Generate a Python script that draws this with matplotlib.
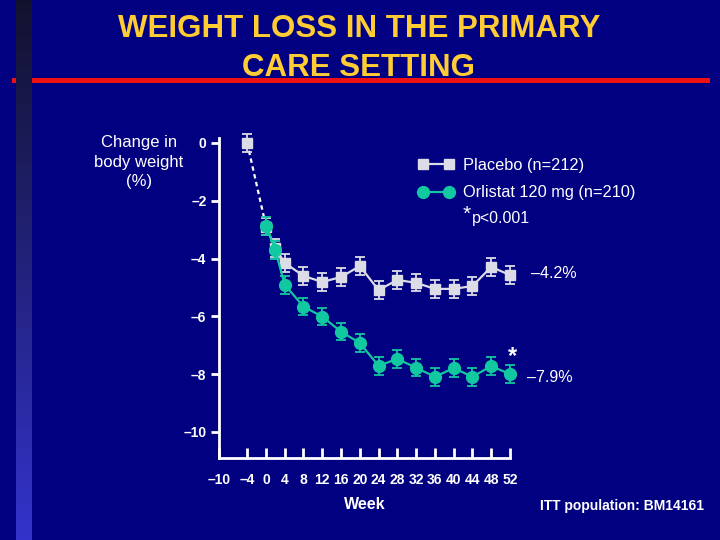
import matplotlib.pyplot as plt
import numpy as np

# data
weeks = [0, 2, 4, 8, 12, 16, 20, 24, 28, 32, 36, 40, 44, 48, 52]
placebo = [-2.90, -3.63, -4.15, -4.60, -4.81, -4.64, -4.26, -5.09, -4.74, -4.84, -5.05, -5.05, -4.95, -4.29, -4.57]
placebo_err = [0.30, 0.30, 0.30, 0.30, 0.30, 0.30, 0.30, 0.32, 0.30, 0.30, 0.30, 0.30, 0.30, 0.30, 0.30]
orlistat = [-2.87, -3.70, -4.91, -5.66, -6.01, -6.53, -6.92, -7.71, -7.47, -7.78, -8.09, -7.79, -8.09, -7.72, -8.00]
orlistat_err = [0.30, 0.30, 0.30, 0.30, 0.30, 0.30, 0.30, 0.32, 0.30, 0.30, 0.32, 0.30, 0.32, 0.30, 0.30]
runin_weeks = [-4, 0]
runin = [0.0, -2.87]
baseline_err = 0.30

xticks = [-10, -4, 0, 4, 8, 12, 16, 20, 24, 28, 32, 36, 40, 44, 48, 52]
yticks = [0, -2, -4, -6, -8, -10]

navy = '#000080'
gold = '#FFCC33'
teal = '#12C8A0'
grey = '#DCDCE6'

fig = plt.figure(figsize=(7.2, 5.4), dpi=100, facecolor=navy)

# left gradient strip
strip = fig.add_axes([16 / 720, 0, 16 / 720, 1])
grad = np.linspace(0, 1, 256).reshape(-1, 1)
cols = np.array([[0.07, 0.07, 0.18], [0.20, 0.20, 0.80]])
img = cols[0] + (cols[1] - cols[0]) * grad[:, :, None]
strip.imshow(img, aspect='auto', extent=[0, 1, 0, 1], origin='upper')
strip.axis('off')

# red rule under the title
fig.add_artist(plt.Line2D([14 / 720, 707 / 720], [1 - 80 / 540] * 2, color='#EE1111', lw=3.6, zorder=0))
strip.set_zorder(2)

fig.text(359 / 720, 1 - 48.5 / 540, 'WEIGHT LOSS IN THE PRIMARY\nCARE SETTING', color=gold,
         fontsize=22.5, fontweight='bold', family='Liberation Sans', ha='center', va='center',
         linespacing=1.36)

ax = fig.add_axes([219 / 720, 1 - 458 / 540, 291 / 720, 320 / 540])
ax.set_facecolor(navy)
ax.set_xlim(-10, 52)
ax.set_ylim(-10.9, 0.17)

# run-in (dashed)
ax.plot(runin_weeks, runin, color='white', lw=1.6, ls=(0, (2, 1.6)), zorder=2)
ax.errorbar([runin_weeks[0]], [runin[0]], yerr=[baseline_err], fmt='s', color=grey, ms=7,
            capsize=3.5, elinewidth=1.3, capthick=1.3, zorder=3)

ax.errorbar(weeks, placebo, yerr=placebo_err, fmt='-s', color=grey, ms=7, lw=1.6,
            capsize=3.5, elinewidth=1.3, capthick=1.3, zorder=3)
ax.errorbar(weeks, orlistat, yerr=orlistat_err, fmt='-o', color=teal, ms=8.5, lw=1.6,
            capsize=3.5, elinewidth=1.3, capthick=1.3, zorder=4)
for art in ax.get_children():
    try:
        art.set_clip_on(False)
    except Exception:
        pass

for s in ['top', 'right']:
    ax.spines[s].set_visible(False)
for s in ['left', 'bottom']:
    ax.spines[s].set_color('white')
    ax.spines[s].set_linewidth(2)

ax.set_xticks(xticks)
ax.set_xticklabels([str(t).replace('-', '\u2013') for t in xticks])
ax.set_yticks(yticks)
ax.set_yticklabels([str(t).replace('-', '\u2013') for t in yticks])
ax.tick_params(axis='x', direction='in', length=7, width=2, color='white', pad=11,
               labelcolor='white', labelsize=10)
ax.tick_params(axis='y', direction='out', length=6, width=2, color='white', pad=3,
               labelcolor='white', labelsize=10)
for lab in ax.get_xticklabels() + ax.get_yticklabels():
    lab.set_family('Liberation Sans')
    lab.set_fontweight('bold')

ax.set_xlabel('Week', color='white', fontsize=11.5, fontweight='bold', family='Liberation Sans',
              labelpad=7)

# legend
h1, = ax.plot([], [], '-s', color=grey, ms=7, lw=1.6)
h2, = ax.plot([], [], '-o', color=teal, ms=8.5, lw=1.6)
leg = fig.legend([h1, h2], ['Placebo (n=212)', 'Orlistat 120 mg (n=210)'], numpoints=2,
                 loc='upper left', bbox_to_anchor=(418 / 720, 1 - 158 / 540), frameon=False,
                 borderpad=0, borderaxespad=0, handlelength=2.2, handletextpad=0.55,
                 labelspacing=0.75, prop={'family': 'Liberation Sans', 'size': 11.8})
for t in leg.get_texts():
    t.set_color('white')

fig.text(463 / 720, 1 - 214 / 540, '*', color='white', fontsize=15, family='Liberation Sans',
         ha='left', va='center')
fig.text(472 / 720, 1 - 219 / 540, 'p<0.001', color='white', fontsize=11.5, family='Liberation Sans',
         ha='left', va='center')

fig.text(139 / 720, 1 - 162 / 540, 'Change in\nbody weight\n(%)', color='white', fontsize=12,
         family='Liberation Sans', ha='center', va='center', linespacing=1.35)

fig.text(531 / 720, 1 - 273 / 540, '\u20134.2%', color='white', fontsize=11.5,
         family='Liberation Sans', ha='left', va='center')
fig.text(527 / 720, 1 - 377 / 540, '\u20137.9%', color='white', fontsize=11.5,
         family='Liberation Sans', ha='left', va='center')
fig.text(512 / 720, 1 - 357 / 540, '*', color='white', fontsize=17, fontweight='bold',
         family='Liberation Sans', ha='center', va='center')

fig.text(622 / 720, 1 - 506 / 540, 'ITT population: BM14161', color='white', fontsize=10,
         fontweight='bold', family='Liberation Sans', ha='center', va='center')

fig.savefig('out.png', dpi=100, facecolor=navy)
